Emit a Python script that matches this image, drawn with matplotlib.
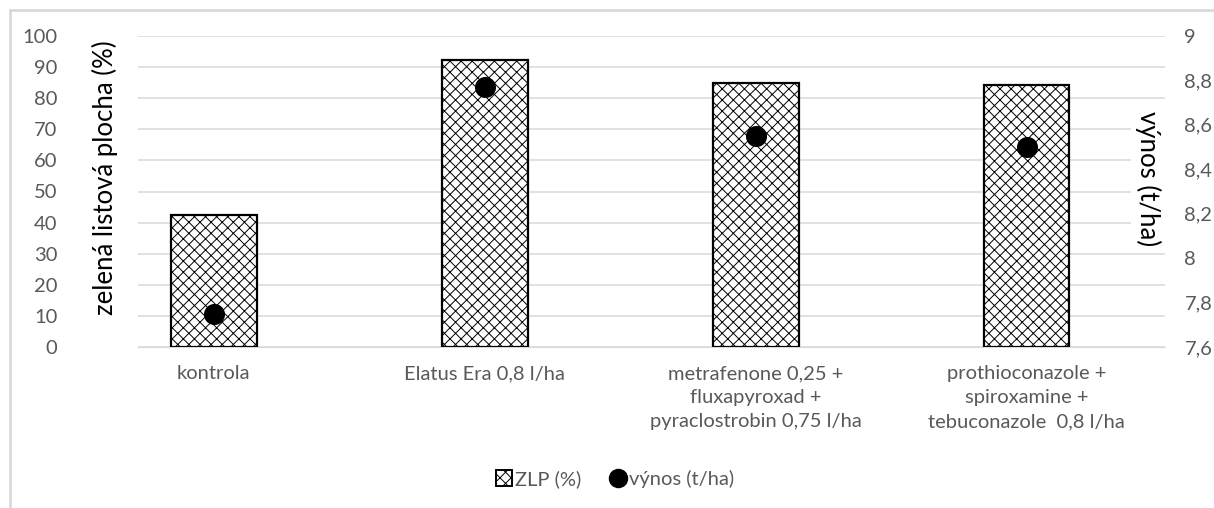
import matplotlib.pyplot as plt
from matplotlib.patches import Rectangle, Patch
from matplotlib.lines import Line2D
from matplotlib.ticker import FuncFormatter

plt.rcParams["font.family"] = ["Lato", "DejaVu Sans"]
plt.rcParams["hatch.linewidth"] = 0.7

categories = [
    "kontrola",
    "Elatus Era 0,8 l/ha",
    "metrafenone 0,25 +\nfluxapyroxad +\npyraclostrobin 0,75 l/ha",
    "prothioconazole +\nspiroxamine +\ntebuconazole  0,8 l/ha",
]
zlp = [42.5, 92.4, 85.0, 84.4]
vynos = [7.75, 8.77, 8.55, 8.50]

W, H = 1214, 508
fig = plt.figure(figsize=(W / 100, H / 100), dpi=100)

# plot area in pixel coordinates
left, right, top, bottom = 138, 1165, 36, 347
ax = fig.add_axes([left / W, 1 - bottom / H, (right - left) / W, (bottom - top) / H])
ax2 = ax.twinx()

x = list(range(len(categories)))
ax.bar(x, zlp, width=0.315, color="white", edgecolor="black", linewidth=1.6,
       hatch="xxx", zorder=3)
ax2.scatter(x, vynos, s=200, color="black", zorder=4)

ax.set_xlim(-0.28, 3.51)
ax.set_ylim(0, 100)
ax.set_yticks(range(0, 101, 10))
ax2.set_ylim(7.6, 9.0)
ax2.set_yticks([7.6, 7.8, 8.0, 8.2, 8.4, 8.6, 8.8, 9.0])
ax2.yaxis.set_major_formatter(
    FuncFormatter(lambda v, p: f"{v:g}".replace(".", ","))
)

ax.grid(axis="y", color="#d9d9d9", linewidth=1.1, zorder=0)
ax.set_axisbelow(True)
for a in (ax, ax2):
    for s in a.spines.values():
        s.set_visible(False)
    a.tick_params(length=0, labelsize=14.5, colors="#595959")
ax.spines["bottom"].set_visible(True)
ax.spines["bottom"].set_color("#d9d9d9")
ax.tick_params(axis="y", pad=58)
ax2.tick_params(axis="y", pad=14)

ax.set_xticks(x)
ax.set_xticklabels(categories, fontsize=14.5, color="#595959", linespacing=1.5)
ax.tick_params(axis="x", pad=13)

fig.text(105 / W, 1 - 178 / H, "zelená listová plocha (%)", rotation=90,
         ha="center", va="center", fontsize=18.5)
fig.text(1148 / W, 1 - 179 / H, "výnos (t/ha)", rotation=270,
         ha="center", va="center", fontsize=18.5, zorder=10,
         bbox=dict(facecolor="white", edgecolor="none", pad=3))

handles = [
    Patch(facecolor="white", edgecolor="black", hatch="xxx", linewidth=1.4,
          label="ZLP (%)"),
    Line2D([], [], marker="o", linestyle="none", color="black", markersize=13,
           label="výnos (t/ha)"),
]
leg = fig.legend(handles=handles, loc="center", bbox_to_anchor=(615 / W, 1 - 479 / H),
                 ncol=2, frameon=False, fontsize=14.5, handlelength=0.8,
                 handleheight=0.8, handletextpad=0.15, columnspacing=1.4)
for t in leg.get_texts():
    t.set_color("#595959")

# outer chart frame
fig.patches.append(Rectangle((10 / W, -0.1), 1.2, 1 - 10 / H + 0.1,
                             transform=fig.transFigure, fill=False,
                             edgecolor="#d9d9d9", linewidth=2))

fig.savefig("out.png", dpi=100)
